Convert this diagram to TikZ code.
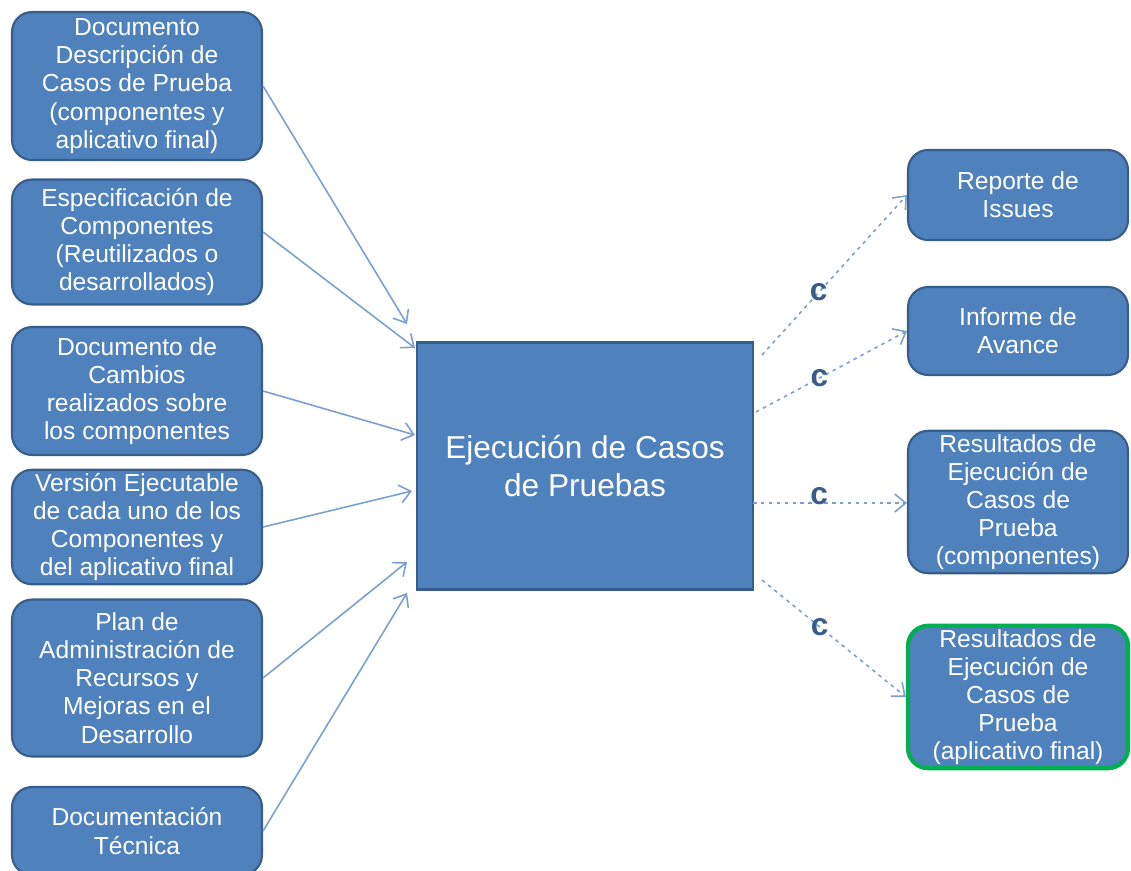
\documentclass[tikz,border=0pt]{standalone}
\usepackage{fontspec}
\setmainfont{Liberation Sans}
\usetikzlibrary{arrows,arrows.meta}
\definecolor{boxfill}{HTML}{4F81BD}
\definecolor{boxline}{HTML}{385D8A}
\definecolor{edgecol}{HTML}{7BA0CD}
\definecolor{greenline}{HTML}{00B050}
\begin{document}
\begin{tikzpicture}[x=0.02cm,y=-0.02cm]

\tikzset{doc/.style = {shape=rectangle,rounded corners=0.4cm,draw=boxline,line width=1.2pt,fill=boxfill,
  text=white,align=center,minimum width=5cm,inner sep=2pt,font=\fontsize{14}{16}\selectfont}}
\tikzset{res/.style = {doc,minimum width=4.4cm}}
\tikzset{edge/.style = {-{Straight Barb[length=2.2mm,width=3.6mm]},draw=edgecol,line width=0.9pt}}
\tikzset{dedge/.style = {edge,dash pattern=on 2pt off 2.5pt}}
\tikzset{clabel/.style = {text=boxline,font=\bfseries\fontsize{18}{18}\selectfont,inner sep=0pt}}

\useasboundingbox (0,0) rectangle (1131,871);

\node[doc,minimum height=2.96cm] (1) at (137,86) {Documento\\Descripción de\\Casos de Prueba\\(componentes y\\aplicativo final)};
\node[doc,minimum height=2.5cm] (2) at (137,242) {Especificación de\\Componentes\\(Reutilizados o\\desarrollados)};
\node[doc,minimum height=2.56cm] (3) at (137,391) {Documento de\\Cambios\\realizados sobre\\los componentes};
\node[doc,minimum height=2.1cm] (4) at (137,527) {Versión Ejecutable\\de cada uno de los\\Componentes y\\del aplicativo final};
\node[doc,minimum height=3.14cm] (5) at (137,678) {Plan de\\Administración de\\Recursos y\\Mejoras en el\\Desarrollo};
\node[doc,minimum height=1.76cm] (6) at (137,831) {Documentación\\Técnica};

\node[doc,rounded corners=0pt,minimum width=6.72cm,minimum height=4.94cm,font=\fontsize{18}{22}\selectfont] (c) at (585,466) {Ejecución de Casos\\de Pruebas};

\node[res,minimum height=1.8cm] (r1) at (1018,195) {Reporte de\\Issues};
\node[res,minimum height=1.76cm] (r2) at (1018,331) {Informe de\\Avance};
\node[res,minimum height=2.78cm] (r3) at (1018,502) {Resultados de\\Ejecución de\\Casos de\\Prueba\\(componentes)};
\node[res,minimum height=2.82cm,draw=greenline,line width=2.4pt] (r4) at (1018,697) {Resultados de\\Ejecución de\\Casos de\\Prueba\\(aplicativo final)};

%arrow ends
\coordinate (t1) at (407,324);
\coordinate (t2) at (415,348);
\coordinate (t3) at (415,435);
\coordinate (t4) at (412,491);
\coordinate (t5) at (407,562);
\coordinate (t6) at (407,593);
\coordinate (s1) at (762,355);
\coordinate (s2) at (756,412);
\coordinate (s3) at (753,503);
\coordinate (s4) at (762,580);

%edges
\draw[edge] (1.east) to (t1);
\draw[edge] ([yshift=5.7pt]2.east) to (t2);
\draw[edge] (3.east) to (t3);
\draw[edge] (4.east) to (t4);
\draw[edge] (5.east) to (t5);
\draw[edge] (6.east) to (t6);

\draw[dedge] (s1) to node[pos=0.39,clabel] {c} (r1.west);
\draw[dedge] (s2) to node[pos=0.42,clabel] {c} (r2.west);
\draw[dedge] (s3) to node[pos=0.43,clabel,yshift=4pt] {c} (s3 -| r3.west);
\draw[dedge] (s4) to node[pos=0.4,clabel] {c} (r4.west);
\end{tikzpicture}
\end{document}
